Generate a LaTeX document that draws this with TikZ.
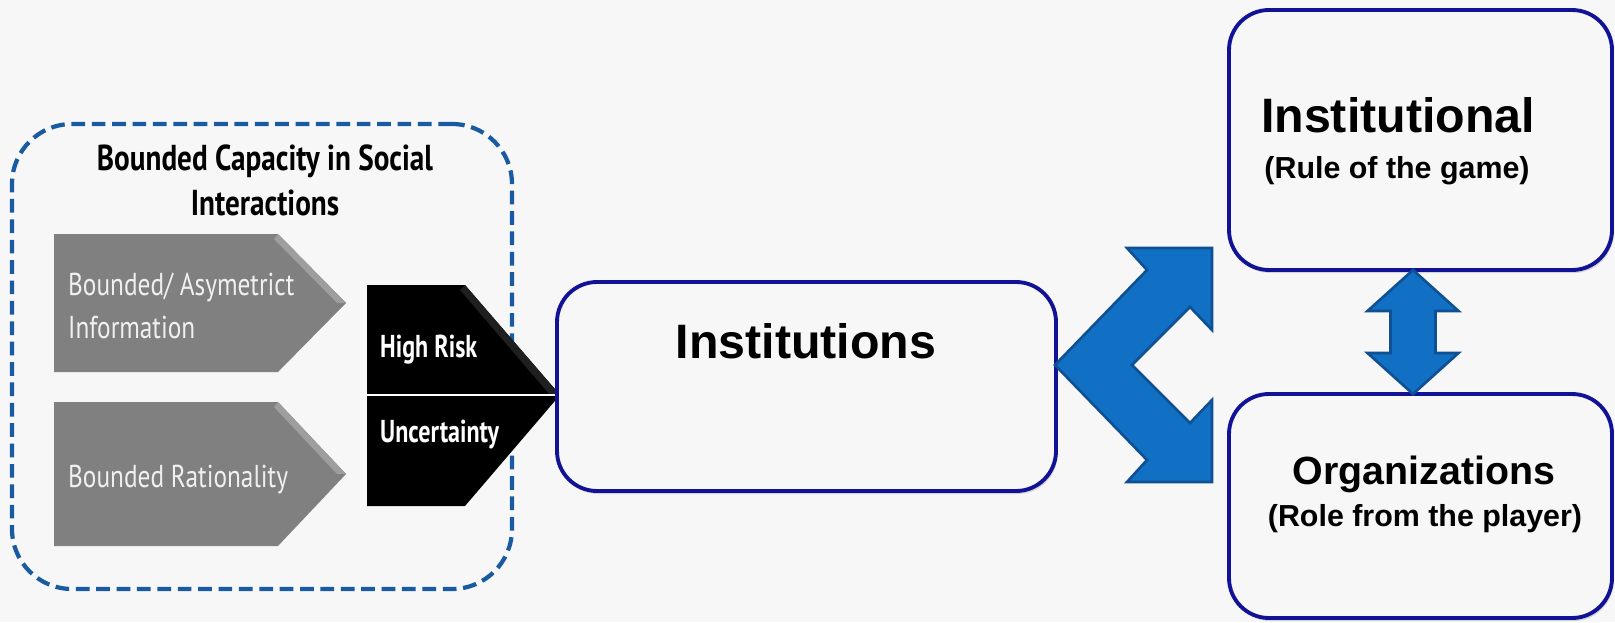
\documentclass[tikz,border=0pt]{standalone}
\usepackage{fontspec}
\setmainfont{Liberation Sans}
\newfontfamily\agency[FakeStretch=0.8]{PT Sans}
\newfontfamily\agencybold[FakeStretch=0.76]{PT Sans Bold}
\newfontfamily\agencytitle[FakeStretch=0.81]{PT Sans Bold}
\usetikzlibrary{shadows}

\definecolor{boxblue}{RGB}{18,18,150}
\definecolor{dashblue}{RGB}{25,90,160}
\definecolor{arrowblue}{RGB}{17,112,196}
\definecolor{arrowedge}{RGB}{14,80,145}
\definecolor{bggray}{RGB}{247,247,247}
\definecolor{chevgray}{RGB}{128,128,128}
\definecolor{bevelgray}{RGB}{158,158,158}

\tikzset{
  bluebox/.style={draw=boxblue, line width=2.2pt, rounded corners=0.8cm, fill=bggray, inner sep=0pt,
    drop shadow={opacity=0.3, shadow xshift=0.03cm, shadow yshift=-0.06cm}},
  dashbox/.style={draw=dashblue, line width=2.4pt, rounded corners=1.2cm, dash pattern=on 7.8pt off 3.8pt, inner sep=0pt},
  titletext/.style={anchor=base, font=\agencytitle\fontsize{20.5}{25}\selectfont},
  graytext/.style={anchor=base west, text=white!94!black, font=\agency\fontsize{18}{22}\selectfont},
  blacktext/.style={anchor=base west, text=white, font=\agencybold\fontsize{18}{22}\selectfont}
}

\begin{document}
\begin{tikzpicture}
  \useasboundingbox (0,0) rectangle (32.30,-12.44);
  \fill [bggray] (0,0) rectangle (32.30,-12.44);

  \node [dashbox, minimum width=10cm, minimum height=9.3cm] (bounded) at (5.24,-7.13) {};
  \node [titletext] (title) at (5.30,-3.40) {Bounded Capacity in Social};
  \node [titletext] (title2) at (5.30,-4.30) {Interactions};

  \fill [chevgray] (1.08,-4.68) -- (5.56,-4.68) -- (6.92,-6.06) -- (5.56,-7.44) -- (1.08,-7.44) -- cycle;
  \fill [bevelgray] (5.56,-4.68) -- (6.92,-6.06) -- (6.74,-6.06) -- (5.48,-4.78) -- cycle;
  \fill [chevgray] (1.08,-8.04) -- (5.56,-8.04) -- (6.92,-9.48) -- (5.56,-10.92) -- (1.08,-10.92) -- cycle;
  \fill [bevelgray] (5.56,-8.04) -- (6.92,-9.48) -- (6.74,-9.48) -- (5.48,-8.14) -- cycle;
  \node [graytext] (asym) at (1.24,-5.90) {Bounded/ Asymetrict};
  \node [graytext] (info) at (1.24,-6.76) {Information};
  \node [graytext] (ratio) at (1.24,-9.74) {Bounded Rationality};

  \fill [black] (7.34,-5.70) -- (9.30,-5.70) -- (11.20,-7.90) -- (9.30,-10.12) -- (7.34,-10.12) -- cycle;
  \fill [black!88] (9.30,-5.70) -- (11.20,-7.90) -- (11.00,-7.90) -- (9.20,-5.80) -- cycle;
  \draw [white, line width=1pt] (7.34,-7.90) -- (11.20,-7.90);
  \node [blacktext] (risk) at (7.48,-7.14) {High Risk};
  \node [blacktext] (uncert) at (7.48,-8.84) {Uncertainty};

  \node [bluebox, minimum width=9.98cm, minimum height=4.18cm] (institutions) at (16.13,-7.73) {};
  \node [anchor=base, font=\bfseries\fontsize{27.5}{32}\selectfont] (instlabel) at (16.12,-7.16) {Institutions};

  \node [bluebox, minimum width=7.66cm, minimum height=5.2cm] (institutional) at (28.41,-2.80) {};
  \node [anchor=base, font=\bfseries\fontsize{27.5}{32}\selectfont] (rulelabel) at (27.96,-2.64) {Institutional};
  \node [anchor=base, font=\bfseries\fontsize{17.3}{20}\selectfont] (rule) at (27.94,-3.56) {(Rule of the game)};

  \node [bluebox, minimum width=7.66cm, minimum height=4.48cm] (organizations) at (28.41,-10.12) {};
  \node [anchor=base, font=\bfseries\fontsize{22.4}{26}\selectfont] (orglabel) at (28.48,-9.68) {Organizations};
  \node [anchor=base, font=\bfseries\fontsize{17.3}{20}\selectfont] (role) at (28.50,-10.52) {(Role from the player)};

  \filldraw [fill=arrowblue, draw=arrowedge, line width=1.5pt, line join=miter]
    (21.10,-7.30) -- (22.94,-5.40) -- (22.54,-4.96) -- (24.24,-4.96) -- (24.24,-6.60) -- (23.80,-6.14)
    -- (22.64,-7.30) -- (23.80,-8.46) -- (24.24,-8.00) -- (24.24,-9.64) -- (22.54,-9.64) -- (22.94,-9.20) -- cycle;
  \filldraw [fill=arrowblue, draw=arrowedge, line width=1.5pt]
    (28.26,-5.40) -- (29.17,-6.22) -- (28.71,-6.22) -- (28.71,-7.06) -- (29.17,-7.06) -- (28.26,-7.88)
    -- (27.35,-7.06) -- (27.81,-7.06) -- (27.81,-6.22) -- (27.35,-6.22) -- cycle;
\end{tikzpicture}
\end{document}
